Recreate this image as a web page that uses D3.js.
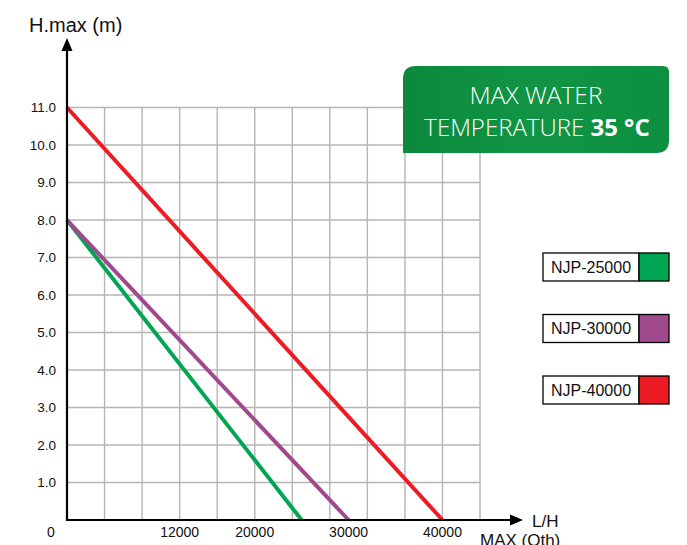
<!DOCTYPE html>
<html><head><meta charset="utf-8">
<script src="https://cdn.jsdelivr.net/npm/d3@7"></script>
<style>
html,body{margin:0;padding:0;background:#fff;}
svg{display:block;}
</style></head>
<body>
<svg id="chart" width="687" height="545"></svg>
<script>
// ---- data ----
const models = ["NJP-25000", "NJP-30000", "NJP-40000"];
const maxFlow = [25000, 30000, 40000];   // L/H at zero head
const maxHead = [8, 8, 11];              // m at zero flow
const seriesColors = ["#00a651", "#a04a8d", "#ed1c24"];
const yTickValues = [1, 2, 3, 4, 5, 6, 7, 8, 9, 10, 11];
const yTickLabels = ["1.0","2.0","3.0","4.0","5.0","6.0","7.0","8.0","9.0","10.0","11.0"];
const xTickValues = [12000, 20000, 30000, 40000];
const xTickLabels = ["12000", "20000", "30000", "40000"];
const xGridValues = [4000, 8000, 12000, 16000, 20000, 24000, 28000, 32000, 36000, 40000, 44000];

const svg = d3.select("#chart");
const x = d3.scaleLinear().domain([0, 44000]).range([67, 480]);
const y = d3.scaleLinear().domain([0, 11]).range([520, 107.5]);

// grid
const grid = svg.append("g").attr("stroke", "#b5b5b5").attr("stroke-width", 1.4);
grid.selectAll("line.v").data(xGridValues).join("line")
  .attr("x1", d => x(d)).attr("x2", d => x(d))
  .attr("y1", y(0)).attr("y2", y(11));
grid.selectAll("line.h").data(yTickValues).join("line")
  .attr("x1", x(0)).attr("x2", x(44000))
  .attr("y1", d => y(d)).attr("y2", d => y(d));

// series lines
const series = models.map((m, i) => ({name: m, color: seriesColors[i],
  pts: [[0, maxHead[i]], [maxFlow[i], 0]]}));
const line = d3.line().x(d => x(d[0])).y(d => y(d[1]));
svg.append("g").selectAll("path").data(series).join("path")
  .attr("d", d => line(d.pts))
  .attr("fill", "none").attr("stroke", d => d.color).attr("stroke-width", 4);

// axes
svg.append("line").attr("x1", x(0)).attr("x2", x(0)).attr("y1", y(0) + 1).attr("y2", 48)
  .attr("stroke", "#000").attr("stroke-width", 2.2);
svg.append("path").attr("d", `M${x(0)},38 L${x(0)-5.5},51 L${x(0)+5.5},51 Z`).attr("fill", "#000");
svg.append("line").attr("x1", x(0) - 1).attr("x2", 512).attr("y1", y(0)).attr("y2", y(0))
  .attr("stroke", "#000").attr("stroke-width", 2.2);
svg.append("path").attr("d", `M523,${y(0)} L510,${y(0)-5.5} L510,${y(0)+5.5} Z`).attr("fill", "#000");

const tickFont = "'Liberation Sans', Arial, sans-serif";
// y tick labels
svg.append("g").selectAll("text").data(yTickValues).join("text")
  .attr("x", 56).attr("y", d => y(d)).attr("dy", "0.36em")
  .attr("text-anchor", "end").attr("font-family", tickFont).attr("font-size", 13.5)
  .attr("fill", "#111").text((d, i) => yTickLabels[i]);
// x tick labels
svg.append("g").selectAll("text").data(xTickValues).join("text")
  .attr("x", d => x(d)).attr("y", 537)
  .attr("text-anchor", "middle").attr("font-family", tickFont).attr("font-size", 14)
  .attr("fill", "#111").text((d, i) => xTickLabels[i]);
svg.append("text").attr("x", 51).attr("y", 537).attr("text-anchor", "middle")
  .attr("font-family", tickFont).attr("font-size", 14).attr("fill", "#111").text("0");

// axis titles
svg.append("text").attr("x", 29).attr("y", 32).attr("font-family", tickFont)
  .attr("font-size", 20).attr("fill", "#111").text("H.max (m)");
svg.append("text").attr("x", 532).attr("y", 527).attr("font-family", tickFont)
  .attr("font-size", 17).attr("fill", "#111").text("L/H");
svg.append("text").attr("x", 480).attr("y", 546).attr("font-family", tickFont)
  .attr("font-size", 17).attr("fill", "#111").text("MAX (Oth)");

// badge
const defs = svg.append("defs");
const grad = defs.append("linearGradient").attr("id", "bg").attr("x1", 0).attr("x2", 1).attr("y1", 0).attr("y2", 0);
grad.append("stop").attr("offset", "0%").attr("stop-color", "#0b893c");
grad.append("stop").attr("offset", "50%").attr("stop-color", "#119545");
grad.append("stop").attr("offset", "100%").attr("stop-color", "#0c8f3f");
const bx0 = 403, bx1 = 669, by0 = 66, by1 = 153, r1 = 13, r2 = 6;
svg.append("path")
  .attr("d", `M${bx0},${by0 + r1} Q${bx0},${by0} ${bx0 + r1},${by0} L${bx1 - r2},${by0} Q${bx1},${by0} ${bx1},${by0 + r2} L${bx1},${by1 - r1} Q${bx1},${by1} ${bx1 - r1},${by1} L${bx0},${by1} Z`)
  .attr("fill", "url(#bg)");
const badgeFont = "'Open Sans', 'Noto Sans', sans-serif";
svg.append("text").attr("x", 536).attr("y", 104).attr("text-anchor", "middle")
  .attr("font-family", badgeFont).attr("font-weight", 300).attr("font-size", 24.5)
  .attr("fill", "#fff").text("MAX WATER");
const t2 = svg.append("text").attr("x", 537).attr("y", 136).attr("text-anchor", "middle")
  .attr("font-family", badgeFont).attr("font-weight", 300).attr("font-size", 24).attr("fill", "#fff");
t2.append("tspan").text("TEMPERATURE ");
t2.append("tspan").attr("font-weight", 700).text("35 °C");

// legend
const legendY = [253, 314.5, 376];
const lg = svg.append("g").selectAll("g").data(series).join("g")
  .attr("transform", (d, i) => `translate(543,${legendY[i]})`);
lg.append("rect").attr("width", 96).attr("height", 28).attr("fill", "#fff")
  .attr("stroke", "#000").attr("stroke-width", 1.3);
lg.append("rect").attr("x", 96).attr("width", 30).attr("height", 28).attr("fill", d => d.color)
  .attr("stroke", "#000").attr("stroke-width", 1.3);
lg.append("text").attr("x", 8).attr("y", 14).attr("dy", "0.36em")
  .attr("font-family", tickFont).attr("font-size", 16).attr("fill", "#111").text(d => d.name);
</script>
</body></html>
